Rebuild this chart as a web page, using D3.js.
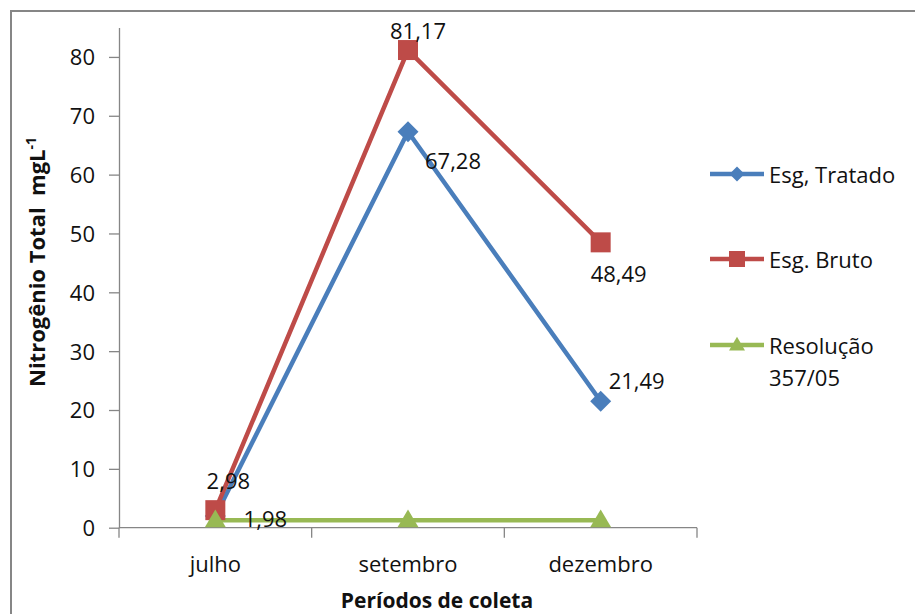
<!DOCTYPE html>
<html>
<head>
<meta charset="utf-8">
<script src="https://cdn.jsdelivr.net/npm/d3@7"></script>
<style>
  html, body { margin: 0; padding: 0; background: #fff; }
  svg { display: block; }
  text { font-family: "Open Sans", "DejaVu Sans", sans-serif; fill: #111; }
</style>
</head>
<body>
<svg id="chart" width="915" height="614"></svg>
<script>
// Sampling periods
const categories = ["julho", "setembro", "dezembro"];

// Total nitrogen (mg/L) per series
const esgTratado = [1.98, 67.28, 21.49];
const esgBruto = [2.98, 81.17, 48.49];
const resolucao = [1.27, 1.27, 1.27];

const yTicks = [0, 10, 20, 30, 40, 50, 60, 70, 80];

const seriesNames = ["Esg, Tratado", "Esg. Bruto", "Resolução 357/05"];

const series = [
  { name: seriesNames[0], values: esgTratado, color: "#4a7ebb", symbol: "diamond" },
  { name: seriesNames[1], values: esgBruto, color: "#be4b48", symbol: "square" },
  { name: seriesNames[2], values: resolucao, color: "#98b954", symbol: "triangle" }
];

// Where each value label sits relative to its point (dx, dy of label centre)
const labelOffsets = {
  "Esg, Tratado": [[50, 2], [45, 28], [36, -21]],
  "Esg. Bruto": [[13, -30], [10, -20], [18, 31]]
};

const svg = d3.select("#chart");
const axisColor = "#868686";

// Outer frame (runs off the right and bottom edges)
svg.append("rect")
  .attr("x", 11).attr("y", 11)
  .attr("width", 940).attr("height", 640)
  .attr("fill", "none")
  .attr("stroke", axisColor)
  .attr("stroke-width", 2);

const x = d3.scaleBand().domain(categories).range([119, 697]);
const y = d3.scaleLinear().domain([0, 85]).range([527.7, 27.5]);
const cx = d => x(d) + x.bandwidth() / 2;

// Y axis
const yAxis = svg.append("g")
  .attr("transform", "translate(119,0)")
  .call(d3.axisLeft(y).tickValues(yTicks).tickSize(10).tickSizeOuter(0).tickPadding(14));
yAxis.select(".domain").attr("stroke", axisColor).attr("stroke-width", 1.3);
yAxis.selectAll(".tick line").attr("stroke", axisColor).attr("stroke-width", 1.3);
yAxis.selectAll(".tick text")
  .style("font-family", '"Open Sans", sans-serif')
  .style("font-size", "22px")
  .attr("fill", "#111")
  .attr("dy", "0.36em");

// X axis baseline with category boundary ticks
svg.append("line")
  .attr("x1", x.range()[0]).attr("x2", x.range()[1])
  .attr("y1", y(0)).attr("y2", y(0))
  .attr("stroke", axisColor).attr("stroke-width", 1.3);
const bounds = categories.map(c => x(c)).concat([x.range()[1]]);
svg.selectAll(".xtick").data(bounds).enter().append("line")
  .attr("x1", d => d).attr("x2", d => d)
  .attr("y1", y(0)).attr("y2", y(0) + 10)
  .attr("stroke", axisColor).attr("stroke-width", 1.3);
svg.selectAll(".xlabel").data(categories).enter().append("text")
  .attr("x", d => cx(d))
  .attr("y", 563)
  .attr("text-anchor", "middle")
  .attr("dominant-baseline", "central")
  .style("font-size", "22px")
  .text(d => d);

// Axis titles
svg.append("text")
  .attr("x", 437).attr("y", 600)
  .attr("text-anchor", "middle")
  .attr("dominant-baseline", "central")
  .style("font-size", "21px")
  .style("font-weight", "bold")
  .text("Períodos de coleta");

const yTitle = svg.append("text")
  .attr("transform", "translate(36,262) rotate(-90)")
  .attr("text-anchor", "middle")
  .attr("dominant-baseline", "central")
  .style("font-size", "22px")
  .style("font-weight", "bold")
  .style("white-space", "pre");
yTitle.append("tspan").text("Nitrogênio Total  mgL");
yTitle.append("tspan").attr("dy", "-0.45em").style("font-size", "14px").text("-1");

// Marker shapes
function markerPath(kind, s) {
  if (kind === "diamond") return `M0,${-s / 2}L${s / 2},0L0,${s / 2}L${-s / 2},0Z`;
  if (kind === "square") return `M${-s / 2},${-s / 2}h${s}v${s}h${-s}Z`;
  const h = s * 0.85;
  return `M0,${-h * 0.6}L${s / 2},${h * 0.4}L${-s / 2},${h * 0.4}Z`;
}

const line = d3.line().x((d, i) => cx(categories[i])).y(d => y(d));

series.forEach(s => {
  svg.append("path")
    .datum(s.values)
    .attr("d", line)
    .attr("fill", "none")
    .attr("stroke", s.color)
    .attr("stroke-width", 4.5)
    .attr("stroke-linejoin", "round");
});
series.forEach(s => {
  svg.selectAll(null).data(s.values).enter().append("path")
    .attr("d", markerPath(s.symbol, s.symbol === "square" ? 20 : 21))
    .attr("transform", (d, i) => `translate(${cx(categories[i])},${y(d)})`)
    .attr("fill", s.color);
});

// Value labels
const fmt = v => v.toFixed(2).replace(".", ",");
series.forEach(s => {
  const offs = labelOffsets[s.name];
  if (!offs) return;
  s.values.forEach((v, i) => {
    svg.append("text")
      .attr("x", cx(categories[i]) + offs[i][0])
      .attr("y", y(v) + offs[i][1])
      .attr("text-anchor", "middle")
      .attr("dominant-baseline", "central")
      .style("font-size", "22px")
      .text(fmt(v));
  });
});

// Legend
const legendRows = [174, 259, 345];
series.forEach((s, i) => {
  const g = svg.append("g").attr("transform", `translate(0,${legendRows[i]})`);
  g.append("line").attr("x1", 710).attr("x2", 764).attr("y1", 0).attr("y2", 0)
    .attr("stroke", s.color).attr("stroke-width", 4.5);
  g.append("path")
    .attr("d", markerPath(s.symbol, s.symbol === "diamond" ? 15 : 16))
    .attr("transform", "translate(737,0)")
    .attr("fill", s.color);
  const words = s.name === seriesNames[2] ? ["Resolução", "357/05"] : [s.name];
  words.forEach((w, k) => {
    g.append("text")
      .attr("x", 769).attr("y", k * 32)
      .attr("dominant-baseline", "central")
      .style("font-size", "22px")
      .text(w);
  });
});
</script>
</body>
</html>
